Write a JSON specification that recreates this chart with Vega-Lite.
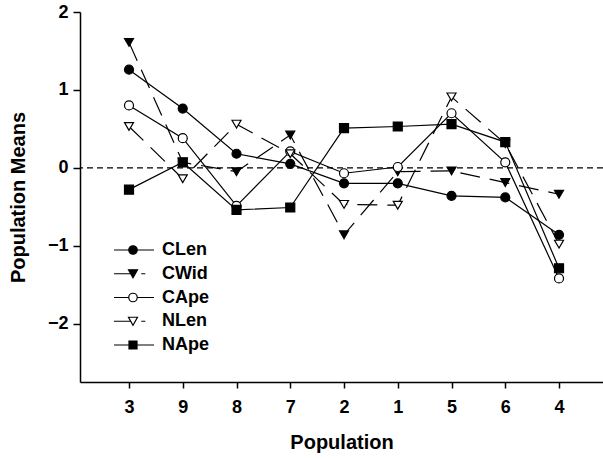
{
  "$schema": "https://vega.github.io/schema/vega-lite/v6.json",
  "autosize": "none",
  "width": 523,
  "height": 370,
  "padding": {"left": 80, "top": 12, "right": 0, "bottom": 77},
  "background": "white",
  "config": {
    "view": {"stroke": null},
    "font": "Liberation Sans",
    "axis": {
      "domainColor": "black", "domainWidth": 1.5, "tickColor": "black", "tickWidth": 1.5,
      "labelFont": "Liberation Sans", "labelFontWeight": "bold", "labelFontSize": 18, "labelColor": "black",
      "titleFont": "Liberation Sans", "titleFontWeight": "bold", "titleFontSize": 20, "titleColor": "black",
      "grid": false
    }
  },
  "datasets": {
    "means": [
      {"pop": "3", "series": "CLen", "value": 1.26},
      {"pop": "9", "series": "CLen", "value": 0.76},
      {"pop": "8", "series": "CLen", "value": 0.18},
      {"pop": "7", "series": "CLen", "value": 0.05},
      {"pop": "2", "series": "CLen", "value": -0.20},
      {"pop": "1", "series": "CLen", "value": -0.20},
      {"pop": "5", "series": "CLen", "value": -0.36},
      {"pop": "6", "series": "CLen", "value": -0.38},
      {"pop": "4", "series": "CLen", "value": -0.86},
      {"pop": "3", "series": "CWid", "value": 1.61},
      {"pop": "9", "series": "CWid", "value": 0.07},
      {"pop": "8", "series": "CWid", "value": -0.05},
      {"pop": "7", "series": "CWid", "value": 0.42},
      {"pop": "2", "series": "CWid", "value": -0.86},
      {"pop": "1", "series": "CWid", "value": -0.05},
      {"pop": "5", "series": "CWid", "value": -0.04},
      {"pop": "6", "series": "CWid", "value": -0.19},
      {"pop": "4", "series": "CWid", "value": -0.34},
      {"pop": "3", "series": "CApe", "value": 0.80},
      {"pop": "9", "series": "CApe", "value": 0.38},
      {"pop": "8", "series": "CApe", "value": -0.49},
      {"pop": "7", "series": "CApe", "value": 0.21},
      {"pop": "2", "series": "CApe", "value": -0.07},
      {"pop": "1", "series": "CApe", "value": 0.01},
      {"pop": "5", "series": "CApe", "value": 0.70},
      {"pop": "6", "series": "CApe", "value": 0.07},
      {"pop": "4", "series": "CApe", "value": -1.42},
      {"pop": "3", "series": "NLen", "value": 0.53},
      {"pop": "9", "series": "NLen", "value": -0.14},
      {"pop": "8", "series": "NLen", "value": 0.56},
      {"pop": "7", "series": "NLen", "value": 0.18},
      {"pop": "2", "series": "NLen", "value": -0.47},
      {"pop": "1", "series": "NLen", "value": -0.48},
      {"pop": "5", "series": "NLen", "value": 0.91},
      {"pop": "6", "series": "NLen", "value": 0.31},
      {"pop": "4", "series": "NLen", "value": -0.98},
      {"pop": "3", "series": "NApe", "value": -0.28},
      {"pop": "9", "series": "NApe", "value": 0.07},
      {"pop": "8", "series": "NApe", "value": -0.54},
      {"pop": "7", "series": "NApe", "value": -0.51},
      {"pop": "2", "series": "NApe", "value": 0.51},
      {"pop": "1", "series": "NApe", "value": 0.53},
      {"pop": "5", "series": "NApe", "value": 0.56},
      {"pop": "6", "series": "NApe", "value": 0.33},
      {"pop": "4", "series": "NApe", "value": -1.29}
    ],
    "zero": [{"v": 0}]
  },
  "layer": [
    {
      "data": {"name": "zero"},
      "mark": {"type": "rule", "color": "black", "strokeWidth": 1.3, "strokeDash": [6, 4]},
      "encoding": {
        "y": {"field": "v", "type": "quantitative", "scale": {"domain": [-2.75, 2], "nice": false}}
      }
    },
    {
      "data": {"name": "means"},
      "transform": [{"filter": {"field": "series", "oneOf": ["CLen", "CApe", "NApe"]}}],
      "mark": {"type": "line", "color": "black", "strokeWidth": 1.2},
      "encoding": {
        "x": {"field": "pop", "type": "nominal", "sort": ["3", "9", "8", "7", "2", "1", "5", "6", "4"],
              "scale": {"type": "point", "padding": 0.865, "align": 0.527},
              "axis": {"title": "Population", "labelAngle": 0, "tickSize": 6, "labelPadding": 10, "titlePadding": 16}},
        "y": {"field": "value", "type": "quantitative",
              "scale": {"domain": [-2.75, 2], "nice": false},
              "axis": {"title": "Population Means", "values": [-2, -1, 0, 1, 2], "format": ".0f", "tickSize": 7, "labelPadding": 5, "titlePadding": 19}},
        "detail": {"field": "series"}
      }
    },
    {
      "data": {"name": "means"},
      "transform": [{"filter": {"field": "series", "oneOf": ["CWid", "NLen"]}}],
      "mark": {"type": "line", "color": "black", "strokeWidth": 1.2, "strokeDash": [20, 10]},
      "encoding": {
        "x": {"field": "pop", "type": "nominal", "sort": ["3", "9", "8", "7", "2", "1", "5", "6", "4"]},
        "y": {"field": "value", "type": "quantitative"},
        "detail": {"field": "series"}
      }
    },
    {
      "data": {"name": "means"},
      "mark": {"type": "point", "stroke": "black", "strokeWidth": 1.2, "filled": false},
      "encoding": {
        "x": {"field": "pop", "type": "nominal", "sort": ["3", "9", "8", "7", "2", "1", "5", "6", "4"]},
        "y": {"field": "value", "type": "quantitative"},
        "shape": {"field": "series", "type": "nominal",
                  "scale": {"domain": ["CApe", "CLen", "CWid", "NApe", "NLen"], "range": ["circle", "circle", "triangle-down", "square", "triangle-down"]},
                  "legend": null},
        "fill": {"field": "series", "type": "nominal",
                 "scale": {"domain": ["CApe", "CLen", "CWid", "NApe", "NLen"], "range": ["white", "black", "black", "black", "white"]},
                 "legend": null},
        "size": {"field": "series", "type": "nominal",
                 "scale": {"domain": ["CApe", "CLen", "CWid", "NApe", "NLen"], "range": [81, 81, 90, 64, 90]},
                 "legend": null},
        "opacity": {"field": "series", "type": "nominal",
                 "scale": {"type": "point", "domain": ["CLen", "CWid", "CApe", "NLen", "NApe"], "range": [1, 1]},
                 "legend": {
                    "title": null, "orient": "none", "legendX": 44, "legendY": 229, "padding": 0,
                    "symbolSize": 100, "labelOffset": 20, "rowPadding": 5.75,
                    "symbolOpacity": 1, "symbolStrokeColor": "black", "symbolStrokeWidth": 1.2,
                    "symbolType": {"expr": "datum.value === 'CLen' || datum.value === 'CApe' ? 'M-3.8,0 L-0.85,0 M0.85,0 L4.2,0 M-0.85,0 A0.85,0.85 0 1,1 0.85,0 A0.85,0.85 0 1,1 -0.85,0 Z' : (datum.value === 'NApe' ? 'M-3.8,0 L-0.8,0 M0.8,0 L4.2,0 M-0.8,-0.8 L0.8,-0.8 L0.8,0.8 L-0.8,0.8 Z' : 'M-3.8,0 L-0.45,0 M1.66,0 L2.46,0 M-0.9,-0.8 L0.9,-0.8 L0,0.8 Z')"},
                    "symbolFillColor": {"expr": "datum.value === 'CApe' || datum.value === 'NLen' ? 'white' : 'black'"},
                    "labelFont": "Liberation Sans", "labelFontWeight": "bold", "labelFontSize": 18, "labelColor": "black"
                  }}
      }
    }
  ]
}
